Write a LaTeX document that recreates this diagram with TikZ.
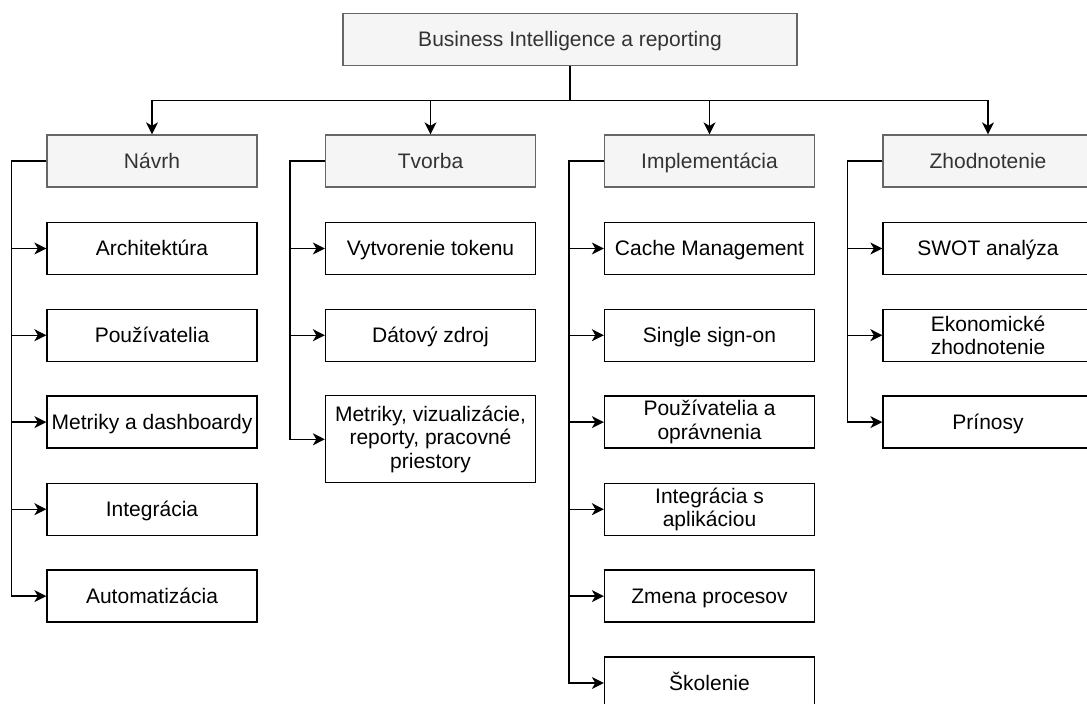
\documentclass[tikz,border=0pt]{standalone}
\usepackage{fontspec}
\setmainfont{Liberation Sans}
\usetikzlibrary{arrows.meta}
\definecolor{hdrfill}{HTML}{F5F5F5}
\definecolor{hdrdraw}{HTML}{666666}
\definecolor{hdrtext}{HTML}{333333}
\begin{document}
\begin{tikzpicture}[x=1pt,y=-1pt,
  every node/.style={font=\fontsize{21}{23.5}\selectfont, align=center, inner sep=0pt},
  oneline/.style={text height=18.5pt, text depth=4.5pt},
  hdrbox/.style={oneline, draw=hdrdraw, fill=hdrfill, text=hdrtext, line width=1.3pt, minimum width=210pt, minimum height=52pt},
  itembox/.style={draw=black, fill=white, text=black, line width=1.3pt, minimum width=210pt, minimum height=52pt},
  itemone/.style={itembox, oneline},
  tallbox/.style={itembox, minimum height=87pt},
  conn/.style={line width=1.3pt, draw=black},
  arr/.style={conn, -{Stealth[length=12pt,width=12pt,inset=3.5pt]}},
]
\useasboundingbox (0,0) rectangle (1087,704);
\fill[white] (0,0) rectangle (1087,704);

% top
\node[hdrbox, minimum width=454pt, minimum height=52.5pt] (top) at (570,39.5) {Business Intelligence a reporting};
\coordinate (bus) at (570,100.5);

% headers
\node[hdrbox] (h1) at (152,161) {Návrh};
\node[hdrbox] (h2) at (430.5,161) {Tvorba};
\node[hdrbox] (h3) at (709.5,161) {Implementácia};
\node[hdrbox] (h4) at (988,161) {Zhodnotenie};

\draw[conn] (top.south) -- (bus);
\draw[arr] (bus) -| (h1.north);
\draw[arr] (bus) -| (h2.north);
\draw[arr] (bus) -| (h3.north);
\draw[arr] (bus) -| (h4.north);

% Návrh items
\node[itemone] (n1) at (152,248.5) {Architektúra};
\node[itemone] (n2) at (152,335.2) {Používatelia};
\node[itemone] (n3) at (152,422.1) {Metriky a dashboardy};
\node[itemone] (n4) at (152,509.2) {Integrácia};
\node[itemone] (n5) at (152,596.1) {Automatizácia};

% Tvorba items
\node[itemone] (t1) at (430.5,248.5) {Vytvorenie tokenu};
\node[itemone] (t2) at (430.5,335.2) {Dátový zdroj};
\node[tallbox] (t3) at (430.5,439.3) {Metriky, vizualizácie,\\reporty, pracovné\\priestory};

% Implementácia items
\node[itemone] (i1) at (709.5,248.5) {Cache Management};
\node[itemone] (i2) at (709.5,335.2) {Single sign-on};
\node[itembox] (i3) at (709.5,422.1) {Používatelia a\\oprávnenia};
\node[itembox] (i4) at (709.5,509.2) {Integrácia s\\aplikáciou};
\node[itemone] (i5) at (709.5,596.1) {Zmena procesov};
\node[itemone] (i6) at (709.5,683) {Školenie};

% Zhodnotenie items
\node[itemone] (z1) at (988,248.5) {SWOT analýza};
\node[itembox] (z2) at (988,335.2) {Ekonomické\\zhodnotenie};
\node[itemone] (z3) at (988,422.1) {Prínosy};

% connectors
\foreach \h/\items in {h1/{n1,n2,n3,n4,n5}, h2/{t1,t2,t3}, h3/{i1,i2,i3,i4,i5,i6}, h4/{z1,z2,z3}}{
  \foreach \it in \items {
    \draw[arr] (\h.west) -- ++(-35,0) |- (\it.west);
  }
}
\end{tikzpicture}
\end{document}
